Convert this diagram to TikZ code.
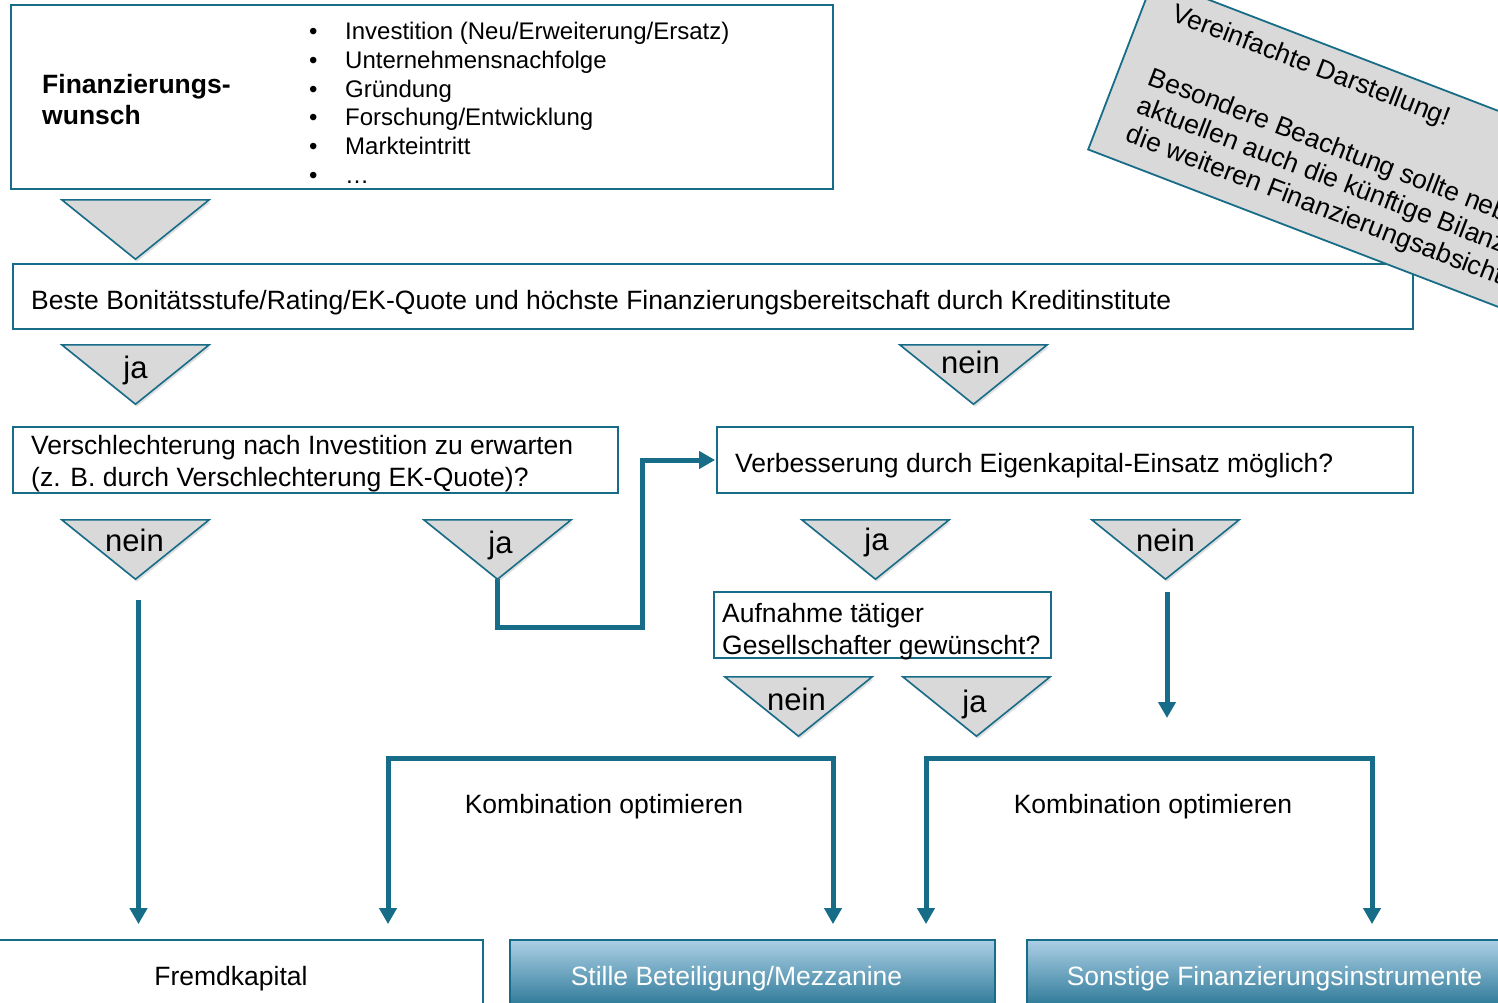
\documentclass[tikz,border=0pt]{standalone}
\usepackage{fontspec}
\setmainfont{Liberation Sans}
\usetikzlibrary{shadows,arrows.meta}
\definecolor{teal1}{RGB}{23,108,135}
\definecolor{trigray}{RGB}{217,217,217}
\definecolor{gradtop}{RGB}{172,207,229}
\definecolor{gradbot}{RGB}{34,114,145}
% name, x-left, y-top, label, label dx, label dy
\newcommand\mktri[6]{%
  \node[trifr] (#1) at (#2+73.5,#3+29.5) {};
  \path[tri] (#1.north west) -- (#1.north east) -- (#1.south) -- cycle;
  \node[trilbl] (#1l) at ([xshift=#5pt,yshift=-#6pt]#1.north) {#4};
}
\begin{document}
\begin{tikzpicture}[x=1pt,y=-1pt,
  box/.style={draw=teal1, line width=1.8pt, fill=white, inner sep=0pt, rectangle},
  gbox/.style={draw=teal1, line width=1.8pt, top color=gradtop, bottom color=gradbot, inner sep=0pt, rectangle},
  tri/.style={fill=trigray, draw=teal1, line width=1.6pt, line join=miter,
    drop shadow={opacity=0.25, shadow xshift=1.5pt, shadow yshift=-2.5pt}},
  trifr/.style={inner sep=0pt, minimum width=147pt, minimum height=59pt},
  trilbl/.style={anchor=base, inner sep=0pt, font=\fontsize{31}{37}\selectfont},
  txt/.style={anchor=base west, inner sep=0pt, font=\fontsize{26.5}{32}\selectfont},
  ctxt/.style={anchor=base, inner sep=0pt, font=\fontsize{26.5}{32}\selectfont},
  conn/.style={draw=teal1, line width=5pt, line join=miter, -{Triangle[width=17pt,length=16pt]}},
  conn2/.style={draw=teal1, line width=5pt, line join=miter, {Triangle[width=17pt,length=16pt]}-{Triangle[width=17pt,length=16pt]}},
  notebox/.style={fill=trigray, draw=teal1, line width=1.8pt, inner sep=0pt, rectangle, anchor=south west},
  ntxt/.style={anchor=base west, inner sep=0pt, font=\fontsize{26.5}{31}\selectfont},
]
\clip (0,0) rectangle (1498,1003);

% boxes
\node[box, minimum width=822pt, minimum height=184pt] (b1) at (422,97) {};
\node[box, minimum width=1400pt, minimum height=65pt] (b2) at (713,296.5) {};
\node[box, minimum width=605pt, minimum height=66pt] (b3) at (315.5,460) {};
\node[box, minimum width=696pt, minimum height=66pt] (b4) at (1065,460) {};
\node[box, minimum width=337pt, minimum height=66pt] (b5) at (882.5,625) {};
\node[box, minimum width=504pt, minimum height=72pt] (fk) at (231,976) {};
\node[gbox, minimum width=485pt, minimum height=72pt] (sb) at (752.5,976) {};
\node[gbox, minimum width=526pt, minimum height=72pt] (so) at (1290,976) {};

% texts in boxes
\node[txt, font=\bfseries\fontsize{26.5}{31}\selectfont] (tt) at (42,94)
  {\begin{tabular}[t]{@{}l@{}}Finanzierungs-\\wunsch\end{tabular}};
\node[anchor=base west, inner sep=0pt, font=\fontsize{24}{28.8}\selectfont] (bl) at (309,39.5)
  {\begin{tabular}[t]{@{}p{36pt}@{}l@{}}
   \textbullet & Investition (Neu/Erweiterung/Ersatz)\\
   \textbullet & Unternehmensnachfolge\\
   \textbullet & Gründung\\
   \textbullet & Forschung/Entwicklung\\
   \textbullet & Markteintritt\\
   \textbullet & …
   \end{tabular}};
\node[txt] (b2t) at (31,309) {Beste Bonitätsstufe/Rating/EK-Quote und höchste Finanzierungsbereitschaft durch Kreditinstitute};
\node[txt] (b3t) at (31,454) {\begin{tabular}[t]{@{}l@{}}Verschlechterung nach Investition zu erwarten\\(z. B. durch Verschlechterung EK-Quote)?\end{tabular}};
\node[txt] (b4t) at (735,472) {Verbesserung durch Eigenkapital-Einsatz möglich?};
\node[txt] (b5t) at (722,622) {\begin{tabular}[t]{@{}l@{}}Aufnahme tätiger\\Gesellschafter gewünscht?\end{tabular}};
\node[ctxt] (k1) at (604,813) {Kombination optimieren};
\node[ctxt] (k2) at (1153,813) {Kombination optimieren};
\node[ctxt] (fkt) at (231,985) {Fremdkapital};
\node[ctxt, text=white] (sbt) at (736.5,985) {Stille Beteiligung/Mezzanine};
\node[ctxt, text=white] (sot) at (1274.5,985) {Sonstige Finanzierungsinstrumente};

% coordinates
\coordinate (jc1) at (642,627);
\coordinate (e7) at (1167,718);
\coordinate (lb1) at (388,758);
\coordinate (lb2) at (833,758);
\coordinate (rb1) at (926,758);
\coordinate (rb2) at (1372,758);
\coordinate (t4s) at (138.5,600);

% triangles that connectors leave from, then connectors
\mktri{t4}{62}{520}{nein}{-1}{31.5}
\mktri{t7}{1092}{520}{nein}{0}{31.5}
\node[trifr] (t5) at (424+73.5,520+29.5) {};
\draw[conn, shorten >=15pt] (t4s) -- (t4s |- fk.north);
\draw[conn, shorten >=1pt] (t5.south) |- (jc1) |- (b4.west);
\draw[conn, shorten <=13pt] (t7.south -| e7) -- (e7);
\draw[conn2, shorten <=15pt, shorten >=15pt] (lb1 |- fk.north) -- (lb1) -- (lb2) -- (lb2 |- sb.north);
\draw[conn2, shorten <=15pt, shorten >=15pt] (rb1 |- sb.north) -- (rb1) -- (rb2) -- (rb2 |- so.north);

% triangle drawn over its connector
\path[tri] (t5.north west) -- (t5.north east) -- (t5.south) -- cycle;
\node[trilbl] (t5l) at ([xshift=3pt,yshift=-33.5pt]t5.north) {ja};

\mktri{t1}{62}{200}{}{0}{33.5}
\mktri{t2}{62}{345}{ja}{0}{33.5}
\mktri{t3}{900}{345}{nein}{-3}{28.5}
\mktri{t6}{802}{520}{ja}{1}{30.5}
\mktri{t8}{725}{677}{nein}{-2}{33.5}
\mktri{t9}{903}{677}{ja}{-2}{36}

% rotated note
\begin{scope}[shift={(1087,150)}, rotate=-21, transform shape]
  \node[notebox, minimum width=560pt, minimum height=183pt] (note) at (0,0) {};
  \node[ntxt] (n1) at (31,-151) {Vereinfachte Darstellung!};
  \node[ntxt] (n2) at (32,-83) {Besondere Beachtung sollte neb};
  \node[ntxt] (n3) at (32,-52.5) {aktuellen auch die künftige Bilanz};
  \node[ntxt] (n4) at (32,-22) {die weiteren Finanzierungsabsicht};
\end{scope}
\end{tikzpicture}
\end{document}
